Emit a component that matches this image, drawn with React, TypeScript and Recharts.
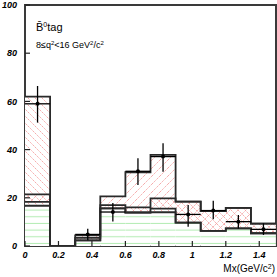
import React from "react";
import { ComposedChart, Bar, Line, XAxis, YAxis, Scatter, ErrorBar, ReferenceArea } from "recharts";

// bins of 0.15 GeV/c^2 from 0 to 1.5
const binCenters = [0.075, 0.225, 0.375, 0.525, 0.675, 0.825, 0.975, 1.125, 1.275, 1.425];
const binHalfWidth = 0.075;

// green (horizontal hatch) component
const greenTop = [16.5, null, 2.3, 14, 13.8, 13.5, 9.7, 6.3, 7.3, 5.3];
// "\" hatched component (low / high edge)
const compALow = [16.7, null, 2.3, 15.6, 13.9, 14, 9.7, 6.3, 7.3, 5.3];
const compAHigh = [62, null, 4.4, 17, 16, 19.8, 18.4, 14.5, 15.8, 9.3];
// "/" hatched component
const compBLow = [18.3, null, 2.3, 15.6, 13.9, 15.5, 9.7, 6.3, 7.3, 5.3];
const compBHigh = [21.4, null, 3.4, 20.6, 30.6, 37.8, 18.4, 14.5, 15.8, 9.3];

// data points
const dataY = [59, null, 4.8, 14.1, 31, 37.1, 13.1, 14.7, 10.1, 6.9];
const errDown = [7.8, null, 2.4, 3.9, 5.7, 6.3, 5.1, 3.6, 2.8, 2.3];
const errUp = [7.4, null, 2.4, 3.7, 5.4, 5.5, 3.9, 4.1, 2.8, 2.5];

const xTicks = [0, 0.2, 0.4, 0.6, 0.8, 1, 1.2, 1.4];
const yTicks = [0, 20, 40, 60, 80, 100];

const rows = binCenters.map((x, i) => ({
  x,
  green: greenTop[i] == null ? null : [0, greenTop[i]],
  a: compALow[i] == null ? null : [compALow[i], compAHigh[i]],
  b: compBLow[i] == null ? null : [compBLow[i], compBHigh[i]],
}));

// step outlines: one point per bin edge, last bin repeated at the right edge
const n = binCenters.length;
const edges = [...binCenters.map((c) => c - binHalfWidth), binCenters[n - 1] + binHalfWidth];
const steps = edges.map((x, i) => {
  const k = Math.min(i, n - 1);
  return {
    x,
    aLow: compALow[k] ?? 0,
    aHigh: compAHigh[k] ?? 0,
    bLow: compBLow[k] ?? 0,
    bHigh: compBHigh[k] ?? 0,
  };
});

const points = binCenters
  .map((x, i) => ({ x, y: dataY[i], ey: [errDown[i], errUp[i]], ex: binHalfWidth }))
  .filter((p) => p.y != null);

const tickFont = { fontFamily: "Liberation Sans, Arial, sans-serif", fontSize: 9, fontWeight: "bold", fontStyle: "italic" };

const XTick = (props: any) => {
  const { x, y, payload } = props;
  return (
    <g>
      <line x1={x} y1={y} x2={x} y2={y - 5} stroke="#222" strokeWidth={1.2} />
      <text x={x} y={y + 11.5} textAnchor="middle" fill="#000" style={tickFont}>
        {payload.value}
      </text>
    </g>
  );
};

const YTick = (props: any) => {
  const { x, y, payload } = props;
  return (
    <g>
      <line x1={x} y1={y} x2={x + 5} y2={y} stroke="#222" strokeWidth={1.2} />
      <text x={x - 8} y={y + 3.2} textAnchor="end" fill="#000" style={tickFont}>
        {payload.value}
      </text>
    </g>
  );
};

const font = "Liberation Sans, Arial, sans-serif";
const outline = "#2a2a2a";

export default function App() {
  return (
    <div style={{ position: "absolute", left: 0, top: 0 }}>
      <ComposedChart
        width={277}
        height={277}
        data={rows}
        margin={{ top: 5, right: 1, bottom: 0, left: 0 }}
        barCategoryGap={0}
        barGap={0}
      >
        <defs>
          <pattern id="greenHatch" patternUnits="userSpaceOnUse" width={10} height={6.67}>
            <rect width={10} height={6.67} fill="#fff" />
            <line x1={0} y1={3.3} x2={10} y2={3.3} stroke="#b4ecb4" strokeWidth={1} />
          </pattern>
          <pattern id="backHatch" patternUnits="userSpaceOnUse" width={7} height={7}>
            <rect width={7} height={7} fill="#fff" />
            <line x1={0} y1={0} x2={7} y2={7} stroke="#f4a2a2" strokeWidth={0.9} strokeDasharray="1.6 0.8" />
            <line x1={-1} y1={6} x2={1} y2={8} stroke="#f4a2a2" strokeWidth={0.9} />
            <line x1={6} y1={-1} x2={8} y2={1} stroke="#f4a2a2" strokeWidth={0.9} />
          </pattern>
          <pattern id="fwdHatch" patternUnits="userSpaceOnUse" width={8} height={8}>
            <line x1={0} y1={8} x2={8} y2={0} stroke="#f4a2a2" strokeWidth={0.9} strokeDasharray="1.6 0.8" />
            <line x1={-1} y1={1} x2={1} y2={-1} stroke="#f4a2a2" strokeWidth={0.9} />
            <line x1={7} y1={9} x2={9} y2={7} stroke="#f4a2a2" strokeWidth={0.9} />
          </pattern>
        </defs>

        <XAxis xAxisId="g" dataKey="x" type="category" hide height={0} />
        <XAxis xAxisId="a" dataKey="x" type="category" hide height={0} />
        <XAxis xAxisId="b" dataKey="x" type="category" hide height={0} />
        <XAxis
          xAxisId="num"
          dataKey="x"
          type="number"
          domain={[0, 1.5]}
          ticks={xTicks}
          allowDataOverflow
          height={31}
          axisLine={false}
          tickLine={false}
          tickSize={0}
          tickMargin={0}
          tick={<XTick />}
          interval={0}
        />
        <YAxis
          domain={[0, 100]}
          ticks={yTicks}
          allowDataOverflow
          width={25}
          axisLine={false}
          tickLine={false}
          tickSize={0}
          tickMargin={0}
          tick={<YTick />}
          interval={0}
        />

        <Bar xAxisId="g" dataKey="green" fill="url(#greenHatch)" stroke="none" isAnimationActive={false} />
        <Bar xAxisId="a" dataKey="a" fill="url(#backHatch)" stroke="none" isAnimationActive={false} />
        <Bar xAxisId="b" dataKey="b" fill="url(#fwdHatch)" stroke="none" isAnimationActive={false} />

        {["aLow", "aHigh", "bLow", "bHigh"].map((k) => (
          <Line
            key={k}
            xAxisId="num"
            data={steps}
            dataKey={k}
            type="stepAfter"
            stroke={outline}
            strokeWidth={1.8}
            dot={false}
            activeDot={false}
            isAnimationActive={false}
          />
        ))}

        <Scatter
          xAxisId="num"
          data={points}
          dataKey="y"
          isAnimationActive={false}
          shape={(p: any) => <circle cx={p.cx} cy={p.cy} r={2} fill="#000" />}
        >
          <ErrorBar dataKey="ey" direction="y" width={0} stroke="#000" strokeWidth={1.3} />
          <ErrorBar dataKey="ex" direction="x" width={0} stroke="#000" strokeWidth={1.3} />
        </Scatter>

        <ReferenceArea
          xAxisId="num"
          x1={0}
          x2={1.5}
          y1={0}
          y2={100}
          fill="none"
          stroke="#3a3a3a"
          strokeWidth={2}
          ifOverflow="visible"
        />

        <text x={36} y={31} fontFamily={font} fontSize={11} fill="#000">
          {"B\u0304"}
          <tspan dy={-4} fontSize={7}>0</tspan>
          <tspan dy={4}>tag</tspan>
        </text>
        <text x={36} y={48} fontFamily={font} fontSize={9} fill="#000">
          {"8\u2264q"}
          <tspan dy={-3} fontSize={6}>2</tspan>
          <tspan dy={3}>{"<16 GeV"}</tspan>
          <tspan dy={-3} fontSize={6}>2</tspan>
          <tspan dy={3}>/c</tspan>
          <tspan dy={-3} fontSize={6}>2</tspan>
        </text>
        <text x={275} y={272} textAnchor="end" fontFamily={font} fontSize={10} fill="#000">
          Mx(GeV/c
          <tspan dy={-3.5} fontSize={7}>2</tspan>
          <tspan dy={3.5}>)</tspan>
        </text>
      </ComposedChart>
    </div>
  );
}
